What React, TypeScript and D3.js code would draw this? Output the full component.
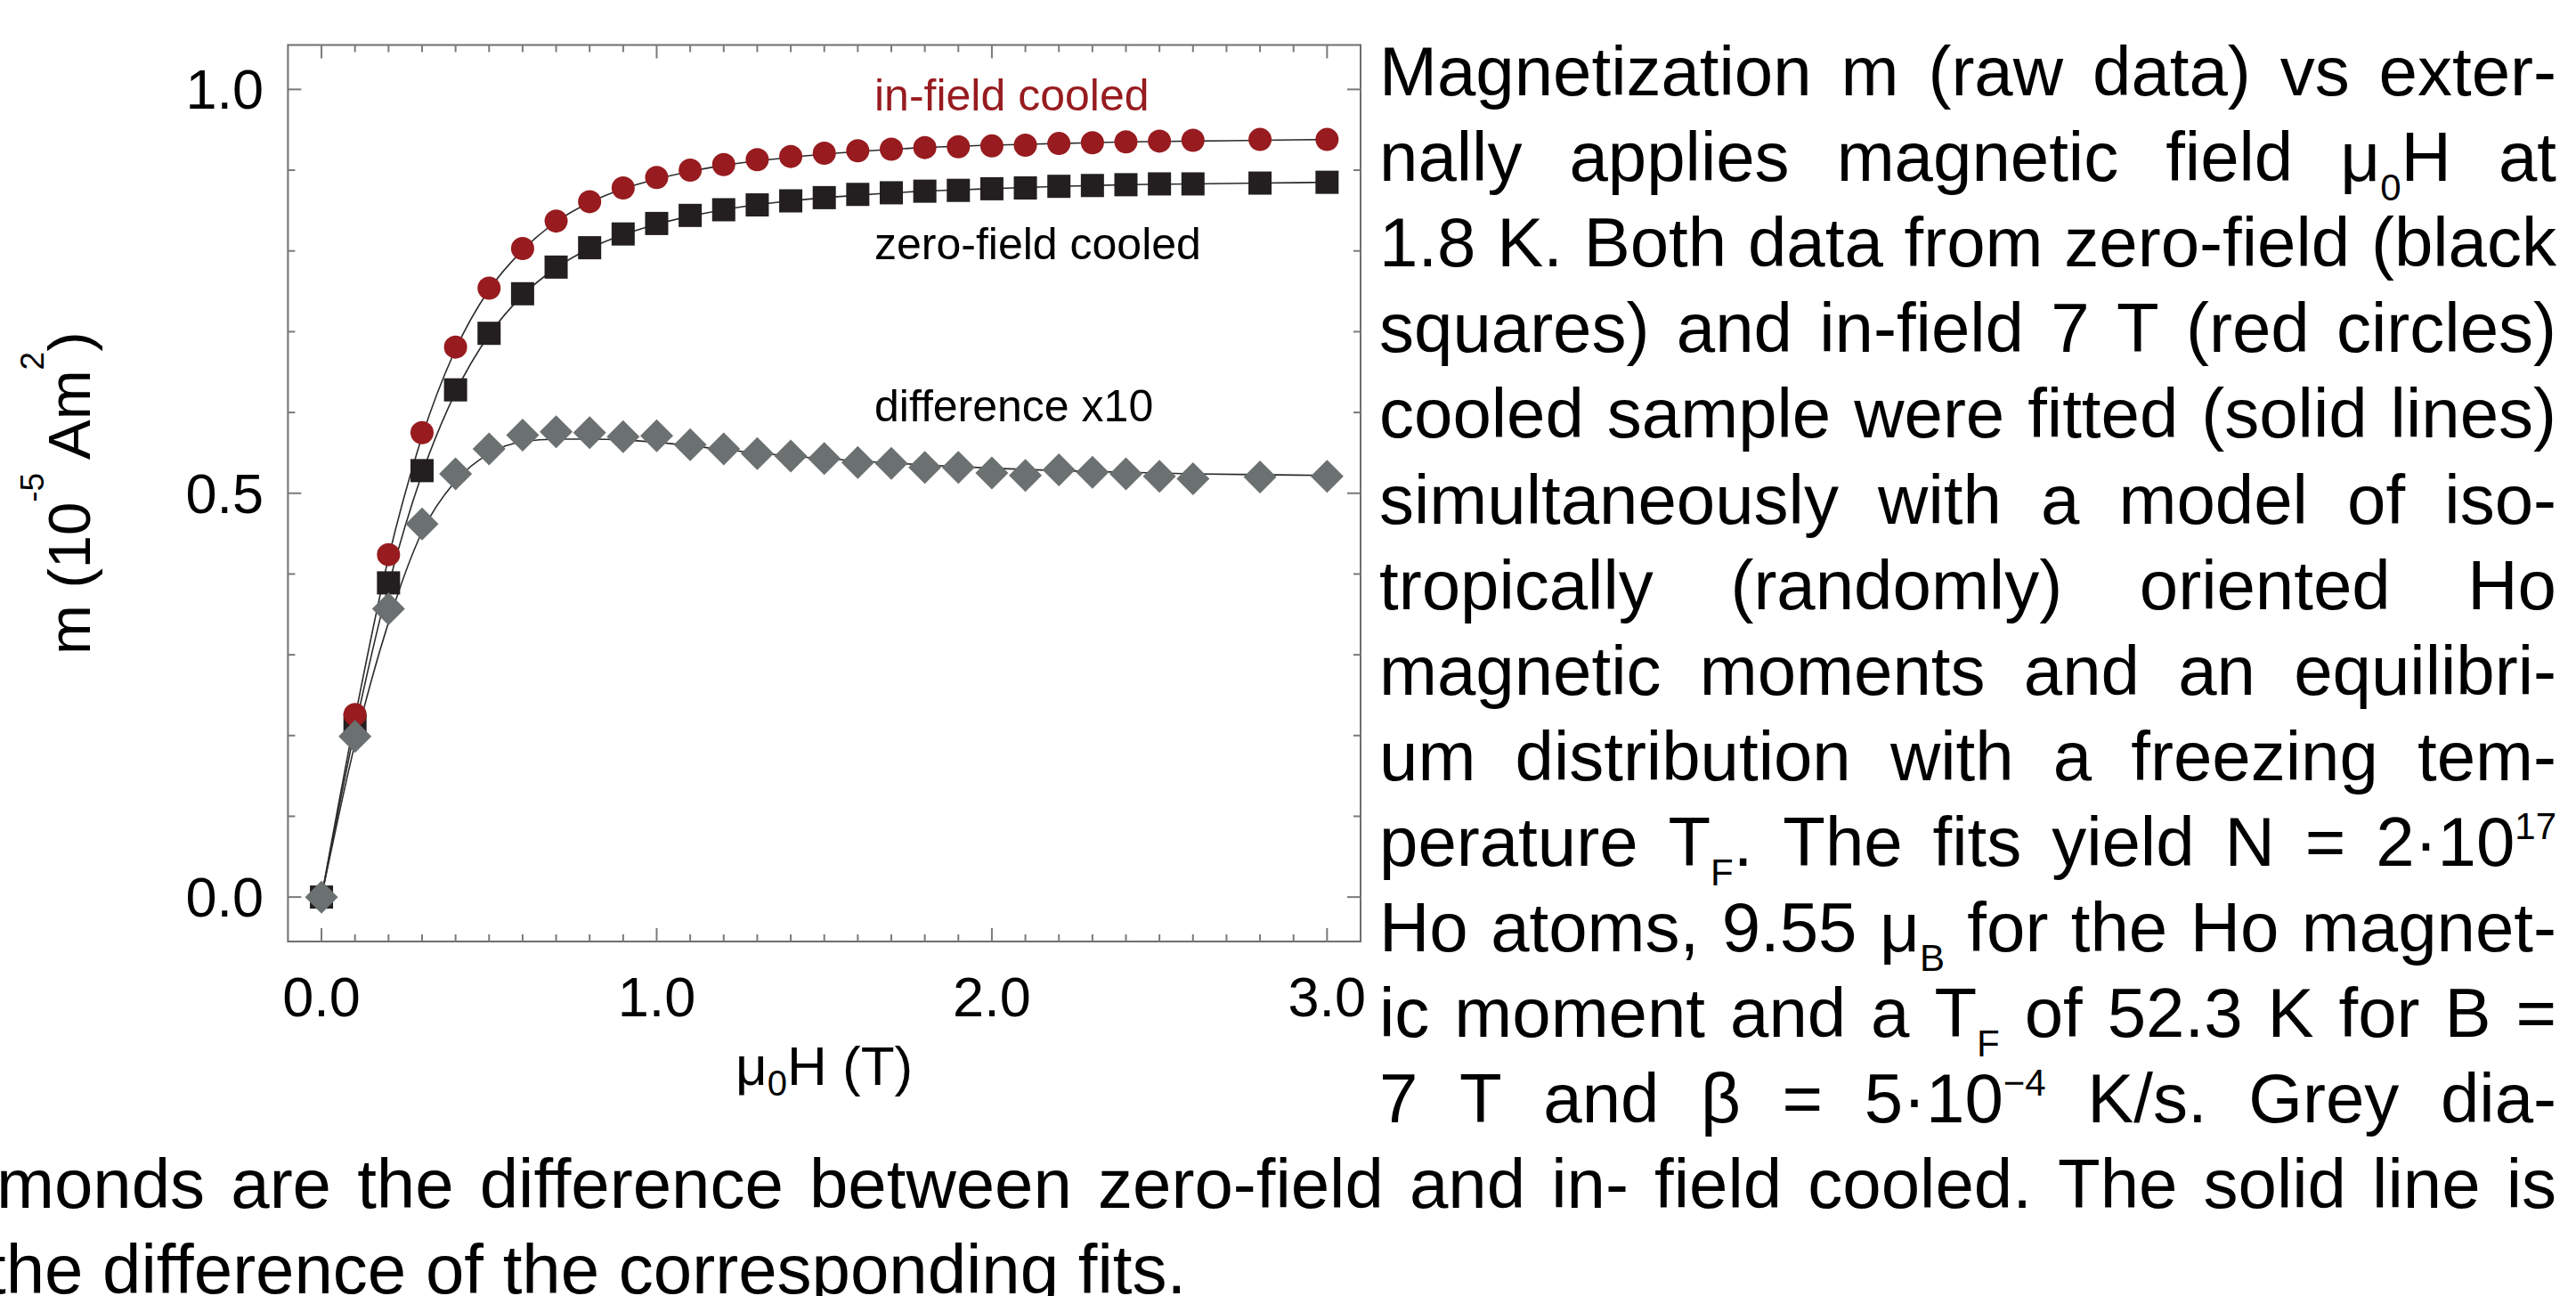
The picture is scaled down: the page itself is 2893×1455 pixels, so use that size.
import React, { useEffect, useRef } from "react";
import * as d3 from "d3";

// measured points, field in T
const fieldT = [0, 0.1, 0.2, 0.3, 0.4, 0.5, 0.6, 0.7, 0.8, 0.9, 1.0, 1.1, 1.2, 1.3, 1.4, 1.5, 1.6, 1.7, 1.8, 1.9, 2.0, 2.1, 2.2, 2.3, 2.4, 2.5, 2.6, 2.8, 3.0];
const inFieldCooled = [0, 0.226, 0.424, 0.575, 0.681, 0.754, 0.803, 0.837, 0.861, 0.878, 0.891, 0.9, 0.907, 0.913, 0.917, 0.921, 0.924, 0.926, 0.928, 0.929, 0.93, 0.931, 0.933, 0.934, 0.935, 0.936, 0.937, 0.938, 0.938];
const zeroFieldCooled = [0, 0.213, 0.389, 0.528, 0.628, 0.698, 0.747, 0.78, 0.804, 0.821, 0.834, 0.844, 0.851, 0.857, 0.862, 0.866, 0.87, 0.872, 0.874, 0.875, 0.877, 0.878, 0.88, 0.881, 0.882, 0.883, 0.883, 0.884, 0.885];
const differenceX10 = [0, 0.199, 0.357, 0.462, 0.524, 0.555, 0.572, 0.576, 0.575, 0.57, 0.571, 0.56, 0.555, 0.549, 0.546, 0.543, 0.538, 0.537, 0.532, 0.532, 0.525, 0.522, 0.529, 0.526, 0.524, 0.521, 0.518, 0.52, 0.521];

// fitted curves (solid lines)
const fitField = [0, 0.1, 0.2, 0.3, 0.4, 0.5, 0.6, 0.7, 0.8, 0.9, 1.0, 1.2, 1.4, 1.6, 1.8, 2.0, 2.2, 2.4, 2.6, 2.8, 3.0];
const fitInField = [0, 0.222, 0.42, 0.57, 0.678, 0.752, 0.801, 0.836, 0.86, 0.877, 0.889, 0.906, 0.916, 0.923, 0.928, 0.931, 0.933, 0.935, 0.936, 0.937, 0.938];
const fitZeroField = [0, 0.208, 0.386, 0.524, 0.625, 0.696, 0.745, 0.779, 0.803, 0.82, 0.833, 0.851, 0.862, 0.869, 0.874, 0.877, 0.88, 0.882, 0.883, 0.884, 0.885];
const fitDifference = [0, 0.19, 0.34, 0.452, 0.515, 0.549, 0.564, 0.567, 0.567, 0.566, 0.563, 0.554, 0.546, 0.54, 0.535, 0.531, 0.528, 0.526, 0.524, 0.523, 0.522];

const xTickLabels = ["0.0", "1.0", "2.0", "3.0"];
const yTickLabels = ["0.0", "0.5", "1.0"];

const captionRight = [
  "Magnetization m (raw data) vs exter-",
  "nally applies magnetic field μ_{0}H at",
  "1.8 K. Both data from zero-field (black",
  "squares) and in-field 7 T (red circles)",
  "cooled sample were fitted (solid lines)",
  "simultaneously with a model of iso-",
  "tropically (randomly) oriented Ho",
  "magnetic moments and an equilibri-",
  "um distribution with a freezing tem-",
  "perature T_{F}. The fits yield N = 2·10^{17}",
  "Ho atoms, 9.55 μ_{B} for the Ho magnet-",
  "ic moment and a T_{F} of 52.3 K for B =",
  "7 T and β = 5·10^{−4} K/s. Grey dia-",
];
const captionBottom = [
  "monds are the difference between zero-field and in- field cooled. The solid line is",
  "the difference of the corresponding fits.",
];

const FONT = "'Liberation Sans', Arial, Helvetica, sans-serif";
const RED = "#971b1f";
const BLACK = "#231f20";
const GREY = "#6b7070";

type Seg = { text: string; kind: "n" | "sub" | "sup" };

function parseSegs(s: string): Seg[] {
  const out: Seg[] = [];
  const re = /([_^])\{([^}]*)\}/g;
  let last = 0;
  let m: RegExpExecArray | null;
  while ((m = re.exec(s))) {
    if (m.index > last) out.push({ text: s.slice(last, m.index), kind: "n" });
    out.push({ text: m[2], kind: m[1] === "_" ? "sub" : "sup" });
    last = re.lastIndex;
  }
  if (last < s.length) out.push({ text: s.slice(last), kind: "n" });
  return out;
}

function appendSegs(text: any, segs: Seg[], smallSize: number, subDy: number, supDy: number) {
  let shift = 0;
  segs.forEach((s) => {
    const target = s.kind === "sub" ? subDy : s.kind === "sup" ? supDy : 0;
    const ts = text.append("tspan").text(s.text).attr("dy", target - shift);
    if (s.kind !== "n") ts.attr("font-size", smallSize);
    shift = target;
  });
}

const App: React.FC = () => {
  const svgRef = useRef<SVGSVGElement>(null);

  useEffect(() => {
    if (!svgRef.current) return;
    const svg = d3.select(svgRef.current);
    svg.selectAll("*").remove();

    const left = 323.4, right = 1528, top = 50.5, bottom = 1057;

    const x = d3.scaleLinear().domain([-0.1, 3.1]).range([left, right]);
    const y = d3.scaleLinear().domain([-0.055, 1.055]).range([bottom, top]);

    svg.append("rect").attr("width", 2893).attr("height", 1455).attr("fill", "#fff");

    // frame
    svg
      .append("rect")
      .attr("x", left)
      .attr("y", top)
      .attr("width", right - left)
      .attr("height", bottom - top)
      .attr("fill", "none")
      .attr("stroke", "#6e6e6e")
      .attr("stroke-width", 2);

    // inward ticks on all four sides
    const ticks = svg.append("g").attr("stroke", "#7a7a7a").attr("stroke-width", 2);
    d3.range(0, 31).forEach((i) => {
      const len = i % 10 === 0 ? 15 : 8;
      const px = x(i / 10);
      ticks.append("line").attr("x1", px).attr("x2", px).attr("y1", bottom).attr("y2", bottom - len);
      ticks.append("line").attr("x1", px).attr("x2", px).attr("y1", top).attr("y2", top + len);
    });
    d3.range(0, 11).forEach((i) => {
      const len = i % 5 === 0 ? 15 : 8;
      const py = y(i / 10);
      ticks.append("line").attr("x1", left).attr("x2", left + len).attr("y1", py).attr("y2", py);
      ticks.append("line").attr("x1", right).attr("x2", right - len).attr("y1", py).attr("y2", py);
    });

    // tick labels
    svg
      .selectAll(".xl")
      .data(xTickLabels)
      .enter()
      .append("text")
      .attr("x", (d) => x(+d))
      .attr("y", 1141)
      .attr("text-anchor", "middle")
      .attr("font-family", FONT)
      .attr("font-size", 63)
      .text((d) => d);

    svg
      .selectAll(".yl")
      .data(yTickLabels)
      .enter()
      .append("text")
      .attr("x", 296)
      .attr("y", (d) => y(+d) + 22)
      .attr("text-anchor", "end")
      .attr("font-family", FONT)
      .attr("font-size", 63)
      .text((d) => d);

    // axis titles
    const xt = svg
      .append("text")
      .attr("x", (left + right) / 2)
      .attr("y", 1218)
      .attr("text-anchor", "middle")
      .attr("font-family", FONT)
      .attr("font-size", 62);
    appendSegs(xt, parseSegs("μ_{0}H (T)"), 40, 12, 0);

    const yt = svg
      .append("text")
      .attr("transform", `translate(101,${(top + bottom) / 2}) rotate(-90)`)
      .attr("text-anchor", "middle")
      .attr("font-family", FONT)
      .attr("font-size", 67);
    appendSegs(yt, parseSegs("m (10^{-5} Am^{2})"), 37, 0, -52);

    // fitted lines
    const line = d3
      .line<number>()
      .x((_, i) => x(fitField[i]))
      .y((d) => y(d))
      .curve(d3.curveMonotoneX);
    [fitZeroField, fitInField, fitDifference].forEach((f) => {
      svg
        .append("path")
        .attr("d", line(f) || "")
        .attr("fill", "none")
        .attr("stroke", "#2b2b2b")
        .attr("stroke-width", 1.6);
    });

    // markers
    svg
      .append("g")
      .selectAll("rect")
      .data(zeroFieldCooled)
      .enter()
      .append("rect")
      .attr("x", (_, i) => x(fieldT[i]) - 13)
      .attr("y", (d) => y(d) - 13)
      .attr("width", 26)
      .attr("height", 26)
      .attr("fill", BLACK);

    svg
      .append("g")
      .selectAll("circle")
      .data(inFieldCooled)
      .enter()
      .append("circle")
      .attr("cx", (_, i) => x(fieldT[i]))
      .attr("cy", (d) => y(d))
      .attr("r", 13)
      .attr("fill", RED);

    const dr = 18.5;
    svg
      .append("g")
      .selectAll("path")
      .data(differenceX10)
      .enter()
      .append("path")
      .attr("d", `M0,${-dr}L${dr},0L0,${dr}L${-dr},0Z`)
      .attr("transform", (d, i) => `translate(${x(fieldT[i])},${y(d)})`)
      .attr("fill", GREY);

    // in-plot labels
    const labels = [
      { t: "in-field cooled", y: 124, c: RED },
      { t: "zero-field cooled", y: 291, c: "#000" },
      { t: "difference x10", y: 473, c: "#000" },
    ];
    labels.forEach((l) => {
      svg
        .append("text")
        .attr("x", 982)
        .attr("y", l.y)
        .attr("font-family", FONT)
        .attr("font-size", 50)
        .attr("fill", l.c)
        .text(l.t);
    });

    // caption, justified word by word
    const cap = svg.append("g").attr("font-family", FONT).attr("font-size", 78).attr("fill", "#000");
    const drawLine = (str: string, baseline: number, x0: number, x1: number, justify: boolean) => {
      const words = str.split(" ");
      const nodes = words.map((w) => {
        const t = cap.append("text").attr("y", baseline);
        appendSegs(t, parseSegs(w), 42, 22, -30);
        return t;
      });
      const widths = nodes.map((n) => (n.node() as SVGTextElement).getComputedTextLength());
      const total = d3.sum(widths);
      const gap = justify && words.length > 1 ? (x1 - x0 - total) / (words.length - 1) : 0.278 * 78;
      let px = x0;
      nodes.forEach((n, i) => {
        n.attr("x", px);
        px += widths[i] + gap;
      });
    };
    const lineStep = 96.1;
    captionRight.forEach((s, i) => drawLine(s, 107 + i * lineStep, 1549, 2871, true));
    drawLine(captionBottom[0], 107 + 13 * lineStep, -4, 2871, true);
    drawLine(captionBottom[1], 107 + 14 * lineStep, -15, 2871, false);
  }, []);

  return (
    <svg
      ref={svgRef}
      width={2893}
      height={1455}
      style={{ position: "absolute", left: 0, top: 0, display: "block" }}
    />
  );
};

export default App;
